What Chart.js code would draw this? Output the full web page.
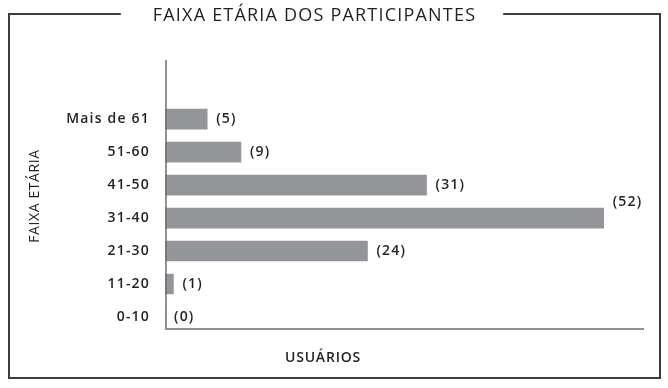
<!DOCTYPE html>
<html><head><meta charset="utf-8">
<script src="https://cdn.jsdelivr.net/npm/chart.js@4"></script>
<style>html,body{margin:0;padding:0;background:#fff}canvas{display:block}</style>
</head><body>
<canvas id="c" width="668" height="388"></canvas>
<script>
const categories = ['Mais de 61', '51-60', '41-50', '31-40', '21-30', '11-20', '0-10'];
const usuarios = [5, 9, 31, 52, 24, 1, 0];
const valueLabels = ['(5)', '(9)', '(31)', '(52)', '(24)', '(1)', '(0)'];
const chartTitle = 'FAIXA ETÁRIA DOS PARTICIPANTES';
const yTitle = 'FAIXA ETÁRIA';
const xTitle = 'USUÁRIOS';

const FONT = "'Open Sans', sans-serif";
const TEXT = '#231f20';
const SPACING = '1.2px';

const spacing = {
  id: 'spacing',
  afterInit(chart) { chart.ctx.letterSpacing = SPACING; },
  beforeUpdate(chart) { chart.ctx.letterSpacing = SPACING; },
  beforeDraw(chart) { chart.ctx.letterSpacing = SPACING; }
};

const decor = {
  id: 'decor',
  afterDraw(chart) {
    const ctx = chart.ctx;
    const ca = chart.chartArea;
    const tb = chart.titleBlock;
    ctx.save();
    ctx.letterSpacing = SPACING;
    // frame with title gap
    ctx.font = "400 18px " + FONT;
    const tw = ctx.measureText(chartTitle).width;
    const tc = (tb.left + tb.right) / 2;
    ctx.strokeStyle = '#3c3c3c';
    ctx.lineWidth = 2;
    ctx.beginPath();
    ctx.moveTo(tc - tw / 2 - 32, 14);
    ctx.lineTo(9, 14);
    ctx.lineTo(9, 378);
    ctx.lineTo(660, 378);
    ctx.lineTo(660, 14);
    ctx.lineTo(tc + tw / 2 + 27, 14);
    ctx.stroke();
    // axis lines
    const axY = ca.bottom - 4.5;
    ctx.strokeStyle = '#6d6e71';
    ctx.lineWidth = 1.5;
    ctx.beginPath();
    ctx.moveTo(ca.left + 1, 60);
    ctx.lineTo(ca.left + 1, axY);
    ctx.lineTo(ca.right + 15, axY);
    ctx.stroke();
    // value labels
    const meta = chart.getDatasetMeta(0);
    const maxV = Math.max(...usuarios);
    ctx.fillStyle = TEXT;
    ctx.font = "600 14px " + FONT;
    ctx.textAlign = 'left';
    ctx.textBaseline = 'middle';
    meta.data.forEach((bar, i) => {
      const raised = usuarios[i] === maxV;
      ctx.fillText(valueLabels[i], bar.x + 9, bar.y - (raised ? 16 : 0));
    });
    // axis titles
    ctx.font = "600 14px " + FONT;
    ctx.letterSpacing = '0.8px';
    ctx.textAlign = 'center';
    ctx.fillText(xTitle, 323, 358);
    ctx.translate(35, 196);
    ctx.rotate(-Math.PI / 2);
    ctx.font = "400 14px " + FONT;
    ctx.letterSpacing = '0.6px';
    ctx.fillText(yTitle, 0, 0);
    ctx.restore();
  }
};

new Chart(document.getElementById('c'), {
  type: 'bar',
  data: {
    labels: categories,
    datasets: [{
      data: usuarios,
      backgroundColor: '#939598',
      borderWidth: 0,
      barThickness: 20
    }]
  },
  options: {
    indexAxis: 'y',
    responsive: false,
    animation: false,
    layout: { padding: { left: 0, right: 39, top: 0, bottom: 54.5 } },
    plugins: {
      legend: { display: false },
      tooltip: { enabled: false },
      title: {
        display: true,
        text: chartTitle,
        color: TEXT,
        font: { family: FONT, size: 18, weight: '400' },
        padding: { top: 5, bottom: 76 }
      }
    },
    scales: {
      x: {
        display: false,
        min: 0,
        max: 55
      },
      y: {
        afterFit(s) { s.width = 165; },
        grid: { display: false, drawTicks: false },
        border: { display: false },
        ticks: {
          color: TEXT,
          padding: 15,
          font: { family: FONT, size: 14, weight: '600' }
        }
      }
    }
  },
  plugins: [spacing, decor]
});
</script>
</body></html>
